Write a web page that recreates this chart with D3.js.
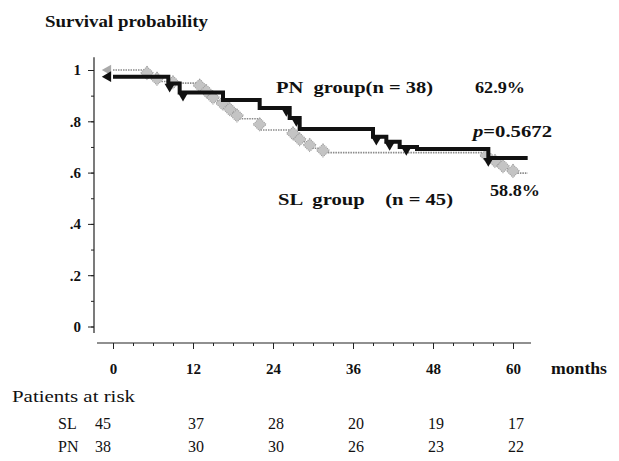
<!DOCTYPE html>
<html>
<head>
<meta charset="utf-8">
<script src="https://cdn.jsdelivr.net/npm/d3@7"></script>
<style>
  body { margin: 0; background: #fff; }
  svg { display: block; }
  text { font-family: "Liberation Serif", "Times New Roman", serif; fill: #111; }
</style>
</head>
<body>
<svg id="chart" width="619" height="461"></svg>
<script>
// Kaplan-Meier steps (months, survival)
var pnMonths = [0, 8.3, 10, 16.5, 22, 26.5, 28, 39, 41, 43, 45.6, 56.3, 62.2];
var pnSurv   = [0.974, 0.947, 0.912, 0.883, 0.852, 0.813, 0.77, 0.74, 0.72, 0.70, 0.692, 0.657, 0.657];
var pnCensor = [8.5, 10.5, 26, 27.5, 39.5, 41.5, 44, 56.3];

var slMonths = [0, 5.1, 6.6, 9, 13, 14, 15, 16.4, 17.5, 18.6, 22, 27, 28, 29.5, 31.5, 56, 57.3, 58.5, 60, 62.2];
var slSurv   = [1.0, 0.977, 0.955, 0.949, 0.93, 0.905, 0.88, 0.86, 0.835, 0.81, 0.766, 0.74, 0.72, 0.695, 0.678, 0.655, 0.635, 0.615, 0.598, 0.598];

var xTicks = [0, 12, 24, 36, 48, 60];
var yTicks = [0, 0.2, 0.4, 0.6, 0.8, 1];
var riskMonths = [0, 12, 24, 36, 48, 60];
var slRisk = [45, 37, 28, 20, 19, 17];
var pnRisk = [38, 30, 30, 26, 23, 22];

var svg = d3.select('#chart');

var x = d3.scaleLinear().domain([0, 60]).range([113, 513]);
var y = d3.scaleLinear().domain([0, 1]).range([326.5, 70]);

// bold label stretched to the width it has in the scan
function note(tx, ty, str, width) {
  return svg.append('text')
    .attr('x', tx).attr('y', ty)
    .attr('textLength', width)
    .attr('lengthAdjust', 'spacingAndGlyphs')
    .attr('xml:space', 'preserve')
    .style('font-size', '16px').style('font-weight', 'bold')
    .text(str);
}

// title
note(45, 27, 'Survival probability', 163);

// y axis (offset from x axis like the original)
var yAxisX = 94;
svg.append('line')
  .attr('x1', yAxisX).attr('x2', yAxisX)
  .attr('y1', y(1.05)).attr('y2', y(-0.025))
  .style('stroke', '#222').style('stroke-width', 1.2);

var yg = svg.append('g').attr('transform', 'translate(' + yAxisX + ',0)');
yg.call(d3.axisLeft(y).tickValues(d3.range(0, 1.01, 0.1)).tickSize(3).tickFormat(''));
yg.append('g').call(d3.axisLeft(y).tickValues(yTicks).tickSize(6).tickPadding(7)
  .tickFormat(function (d) {
    if (d === 0) return '0';
    if (d === 1) return '1';
    return d3.format('.1f')(d).replace('0.', '.');
  }));
yg.selectAll('.domain').remove();
yg.selectAll('.tick line').style('stroke', '#222');
yg.selectAll('.tick text')
  .style('font-size', '15px').style('font-weight', 'bold')
  .style('font-family', '"Liberation Serif", serif').style('fill', '#111');

// x axis
var xAxisY = 343;
svg.append('line')
  .attr('x1', x(-2.4)).attr('x2', x(62.7))
  .attr('y1', xAxisY).attr('y2', xAxisY)
  .style('stroke', '#222').style('stroke-width', 1.2);

var xg = svg.append('g').attr('transform', 'translate(0,' + xAxisY + ')');
xg.call(d3.axisBottom(x).tickValues(d3.range(0, 61, 3)).tickSize(3).tickFormat(''));
xg.append('g').call(d3.axisBottom(x).tickValues(xTicks).tickSize(6).tickPadding(14));
xg.selectAll('.domain').remove();
xg.selectAll('.tick line').style('stroke', '#222');
xg.selectAll('.tick text')
  .style('font-size', '15px').style('font-weight', 'bold')
  .style('font-family', '"Liberation Serif", serif').style('fill', '#111');

note(551, 374, 'months', 56);

// curves
var slData = slMonths.map(function (m, i) { return { m: m, s: slSurv[i] }; });
var pnData = pnMonths.map(function (m, i) { return { m: m, s: pnSurv[i] }; });

var stepLine = d3.line()
  .x(function (d) { return x(d.m); })
  .y(function (d) { return y(d.s); })
  .curve(d3.curveStepAfter);

svg.append('path')
  .datum(slData)
  .attr('d', stepLine)
  .style('fill', 'none')
  .style('stroke', '#8a8a8a')
  .style('stroke-width', 1.6)
  .style('stroke-dasharray', '1.5,1');

// gray diamonds on each SL drop
var slDrops = slData.slice(1, slData.length - 1).map(function (d, i) {
  return { m: d.m, s: (d.s + slData[i].s) / 2 };
});
svg.selectAll('.sl-mark')
  .data(slDrops)
  .enter()
  .append('path')
  .attr('class', 'sl-mark')
  .attr('d', d3.symbol().type(d3.symbolSquare).size(85))
  .attr('transform', function (d) { return 'translate(' + x(d.m) + ',' + y(d.s) + ') rotate(45)'; })
  .style('fill', '#c4c4c4')
  .style('stroke', '#9a9a9a')
  .style('stroke-width', 1)
  .style('stroke-dasharray', '1,1');

svg.append('path')
  .attr('d', d3.symbol().type(d3.symbolTriangle).size(50))
  .attr('transform', 'translate(' + (x(0) - 5) + ',' + y(slSurv[0]) + ') rotate(-90)')
  .style('fill', '#aaa');

svg.append('path')
  .datum(pnData)
  .attr('d', stepLine)
  .style('fill', 'none')
  .style('stroke', '#111')
  .style('stroke-width', 4);

// PN censor marks (down triangles)
function survAt(m) {
  var s = pnSurv[0];
  pnMonths.forEach(function (t, i) { if (t <= m) s = pnSurv[i]; });
  return s;
}
svg.selectAll('.pn-mark')
  .data(pnCensor)
  .enter()
  .append('path')
  .attr('class', 'pn-mark')
  .attr('d', d3.symbol().type(d3.symbolTriangle).size(45))
  .attr('transform', function (d) { return 'translate(' + x(d) + ',' + (y(survAt(d)) + 3) + ') rotate(180)'; })
  .style('fill', '#111');

svg.append('path')
  .attr('d', d3.symbol().type(d3.symbolTriangle).size(50))
  .attr('transform', 'translate(' + (x(0) - 5) + ',' + y(pnSurv[0]) + ') rotate(-90)')
  .style('fill', '#111');

// annotations
note(276, 93, 'PN  group(n = 38)', 157);
note(475, 93, '62.9%', 50);
var pt = svg.append('text').attr('x', 473).attr('y', 137)
  .attr('textLength', 79).attr('lengthAdjust', 'spacingAndGlyphs')
  .style('font-size', '16px').style('font-weight', 'bold');
pt.append('tspan').style('font-style', 'italic').text('p');
pt.append('tspan').text('=0.5672');
note(490, 196, '58.8%', 50);
note(278, 205, 'SL  group    (n = 45)', 175);

// patients at risk
svg.append('text')
  .attr('x', 12).attr('y', 402)
  .attr('textLength', 123).attr('lengthAdjust', 'spacingAndGlyphs')
  .style('font-size', '16px')
  .text('Patients at risk');

var rows = [
  { label: 'SL', vals: slRisk, yy: 429 },
  { label: 'PN', vals: pnRisk, yy: 452 }
];
rows.forEach(function (r) {
  svg.append('text')
    .attr('x', 58).attr('y', r.yy)
    .style('font-size', '16px')
    .text(r.label);
  svg.selectAll(null)
    .data(r.vals)
    .enter()
    .append('text')
    .attr('x', function (d, i) { return i === 0 ? x(riskMonths[i]) - 10 : x(riskMonths[i]) + 3; })
    .attr('y', r.yy)
    .attr('text-anchor', 'middle')
    .style('font-size', '16px')
    .text(function (d) { return d; });
});
</script>
</body>
</html>
